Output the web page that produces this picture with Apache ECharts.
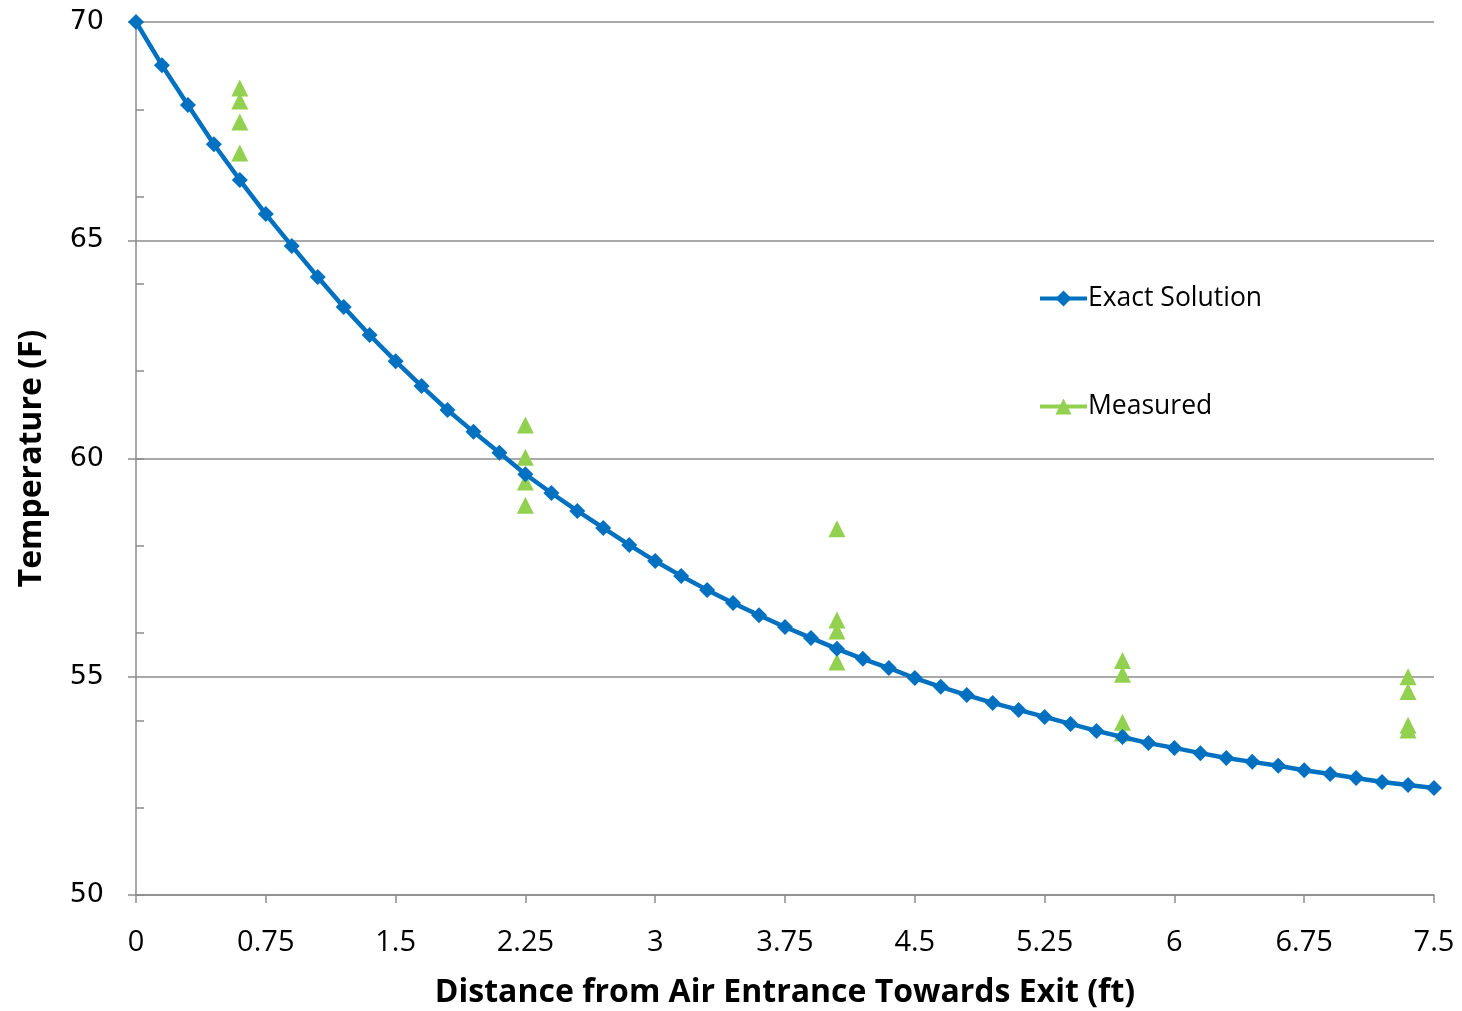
<!DOCTYPE html>
<html>
<head>
<meta charset="utf-8">
<script src="https://cdn.jsdelivr.net/npm/echarts@6/dist/echarts.min.js"></script>
<style>html,body{margin:0;padding:0;background:#fff;}#c{width:1462px;height:1011px;}</style>
</head>
<body>
<div id="c"></div>
<script>
const exactX = [0,0.15,0.3,0.45,0.6,0.75,0.9,1.05,1.2,1.35,1.5,1.65,1.8,1.95,2.1,2.25,2.4,2.55,2.7,2.85,3,3.15,3.3,3.45,3.6,3.75,3.9,4.05,4.2,4.35,4.5,4.65,4.8,4.95,5.1,5.25,5.4,5.55,5.7,5.85,6,6.15,6.3,6.45,6.6,6.75,6.9,7.05,7.2,7.35,7.5];
const exactY = [70,69.01,68.10,67.20,66.38,65.60,64.87,64.16,63.47,62.83,62.23,61.66,61.11,60.61,60.13,59.64,59.21,58.80,58.41,58.02,57.65,57.31,56.99,56.69,56.41,56.14,55.89,55.64,55.41,55.20,54.97,54.77,54.58,54.40,54.24,54.08,53.92,53.76,53.62,53.48,53.37,53.25,53.14,53.05,52.96,52.86,52.77,52.68,52.59,52.52,52.45];
const measX = [0.6,0.6,0.6,0.6,2.25,2.25,2.25,2.25,4.05,4.05,4.05,4.05,5.7,5.7,5.7,5.7,7.35,7.35,7.35,7.35];
const measY = [68.49,68.19,67.71,67.00,60.77,60.03,59.46,58.93,58.39,56.30,56.05,55.34,55.37,55.06,53.96,53.71,55.00,54.66,53.89,53.78];
const xTicks = ['0','0.75','1.5','2.25','3','3.75','4.5','5.25','6','6.75','7.5'];

const chart = echarts.init(document.getElementById('c'));
const gray = '#8c8c8c';
chart.setOption({
  animation: false,
  backgroundColor: '#fff',
  grid: {left: 136, right: 28, top: 22, bottom: 116, containLabel: false, outerBoundsMode: 'none'},
  legend: {
    orient: 'vertical', left: 1033, top: 280,
    itemWidth: 47, itemHeight: 20, itemGap: 81,
    textStyle: {fontFamily: 'Open Sans', fontSize: 26.5, color: '#000', padding: [0,0,0,-4]},
    data: [
      {name: 'Exact Solution', lineStyle: {width: 4}},
      {name: 'Measured', lineStyle: {opacity: 1, width: 4, color: '#92D050'}}
    ]
  },
  xAxis: {
    type: 'value', min: 0, max: 7.5, interval: 0.75,
    name: 'Distance from Air Entrance Towards Exit (ft)',
    nameLocation: 'middle', nameGap: 82,
    nameTextStyle: {fontFamily: 'Open Sans', fontWeight: 'bold', fontSize: 32, color: '#000'},
    axisLine: {show: true, lineStyle: {color: gray, width: 1.5}},
    axisTick: {show: true, length: 8, lineStyle: {color: gray, width: 1.5}},
    axisLabel: {margin: 33, fontFamily: 'Open Sans', fontSize: 29, color: '#000',
      formatter: function(v){ const i = Math.round(v/0.75); return xTicks[i] !== undefined ? xTicks[i] : ''; }},
    splitLine: {show: false}
  },
  yAxis: [{
    type: 'value', min: 50, max: 70, interval: 5,
    name: 'Temperature (F)', nameLocation: 'middle', nameGap: 88, nameRotate: 90,
    nameTextStyle: {fontFamily: 'Open Sans', fontWeight: 'bold', fontSize: 32, color: '#000'},
    axisLine: {show: true, lineStyle: {color: gray, width: 1.5}},
    axisTick: {show: true, length: 8, lineStyle: {color: gray, width: 1.5}},
    axisLabel: {margin: 32, fontFamily: 'DejaVu Sans', fontSize: 27, color: '#000'},
    splitLine: {show: true, lineStyle: {color: gray, width: 1.5}}
  }, {
    type: 'value', min: 50, max: 70, interval: 2, position: 'left',
    axisLine: {show: false},
    axisTick: {show: true, inside: true, length: 8, lineStyle: {color: gray, width: 1.5}},
    axisLabel: {show: false},
    splitLine: {show: false}
  }],
  series: [{
    name: 'Exact Solution', type: 'line', yAxisIndex: 0,
    data: exactX.map((x,i)=>[x, exactY[i]]),
    symbol: 'diamond', symbolSize: 16,
    lineStyle: {color: '#0070C0', width: 4.5},
    itemStyle: {color: '#0070C0'},
    z: 3
  }, {
    name: 'Measured', type: 'line', yAxisIndex: 0,
    data: measX.map((x,i)=>[x, measY[i]]),
    symbol: 'triangle', symbolSize: 17,
    lineStyle: {opacity: 0, width: 0},
    itemStyle: {color: '#92D050'},
    z: 2
  }]
});
</script>
</body>
</html>
